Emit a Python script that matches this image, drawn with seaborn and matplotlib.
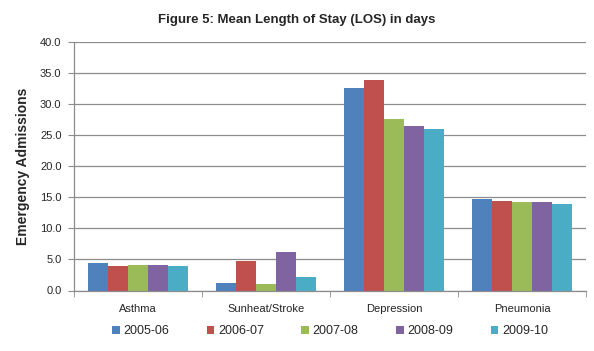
import matplotlib
matplotlib.use("Agg")
import matplotlib.pyplot as plt
import seaborn as sns
import pandas as pd
import numpy as np

categories = ["Asthma", "Sunheat/Stroke", "Depression", "Pneumonia"]
years = ["2005-06", "2006-07", "2007-08", "2008-09", "2009-10"]
v_2005 = [4.4, 1.2, 32.6, 14.7]
v_2006 = [3.9, 4.7, 33.9, 14.4]
v_2007 = [4.1, 1.0, 27.7, 14.2]
v_2008 = [4.1, 6.2, 26.5, 14.2]
v_2009 = [3.9, 2.1, 26.1, 14.0]
yticks = [0, 5, 10, 15, 20, 25, 30, 35, 40]

colors = ["#4F81BD", "#C0504D", "#9BBB59", "#8064A2", "#4BACC6"]

rows = []
for yr, vals in zip(years, [v_2005, v_2006, v_2007, v_2008, v_2009]):
    for c, v in zip(categories, vals):
        rows.append({"cat": c, "year": yr, "val": v})
df = pd.DataFrame(rows)

sns.set_style("white")
plt.rcParams["font.family"] = ["Liberation Sans", "DejaVu Sans"]

fig = plt.figure(figsize=(5.94, 3.51), dpi=100)
ax = fig.add_axes([74 / 594, 60.5 / 351, 512 / 594, 248.2 / 351])
sns.barplot(data=df, x="cat", y="val", hue="year", palette=colors,
            width=0.777, gap=0, saturation=1, ax=ax, legend=True,
            linewidth=0, edgecolor="none")

ax.set_ylim(0, 40)
ax.set_xlim(-0.5, 3.5)
ax.set_yticks(yticks)
ax.set_yticklabels([f"{t:.1f}" for t in yticks], fontsize=8)
ax.yaxis.grid(True, color="#8c8c8c", linewidth=0.9)
ax.set_axisbelow(True)
ax.set_xlabel("")
ax.set_ylabel("Emergency Admissions", fontsize=10, fontweight="bold", labelpad=7)
ax.tick_params(axis="x", length=0, labelsize=8, pad=10)
ax.tick_params(axis="y", length=4, color="#8c8c8c", left=True, pad=5)
for s in ["top", "right"]:
    ax.spines[s].set_visible(False)
for s in ["left", "bottom"]:
    ax.spines[s].set_color("#8c8c8c")
    ax.spines[s].set_linewidth(0.9)
ax.set_xticks([-0.5, 0.5, 1.5, 2.5, 3.5], minor=True)
ax.tick_params(axis="x", which="minor", length=4, color="#8c8c8c", bottom=True)

ax.legend(loc="center", bbox_to_anchor=(0.5, -0.163), ncol=5, frameon=False,
          fontsize=9, handlelength=0.6, handleheight=0.6, columnspacing=3.0,
          handletextpad=0.3)

fig.text(0.5, 1 - 20 / 351, "Figure 5: Mean Length of Stay (LOS) in days",
         ha="center", va="center", fontsize=9.5, fontweight="bold")

fig.savefig("out.png", dpi=100)
